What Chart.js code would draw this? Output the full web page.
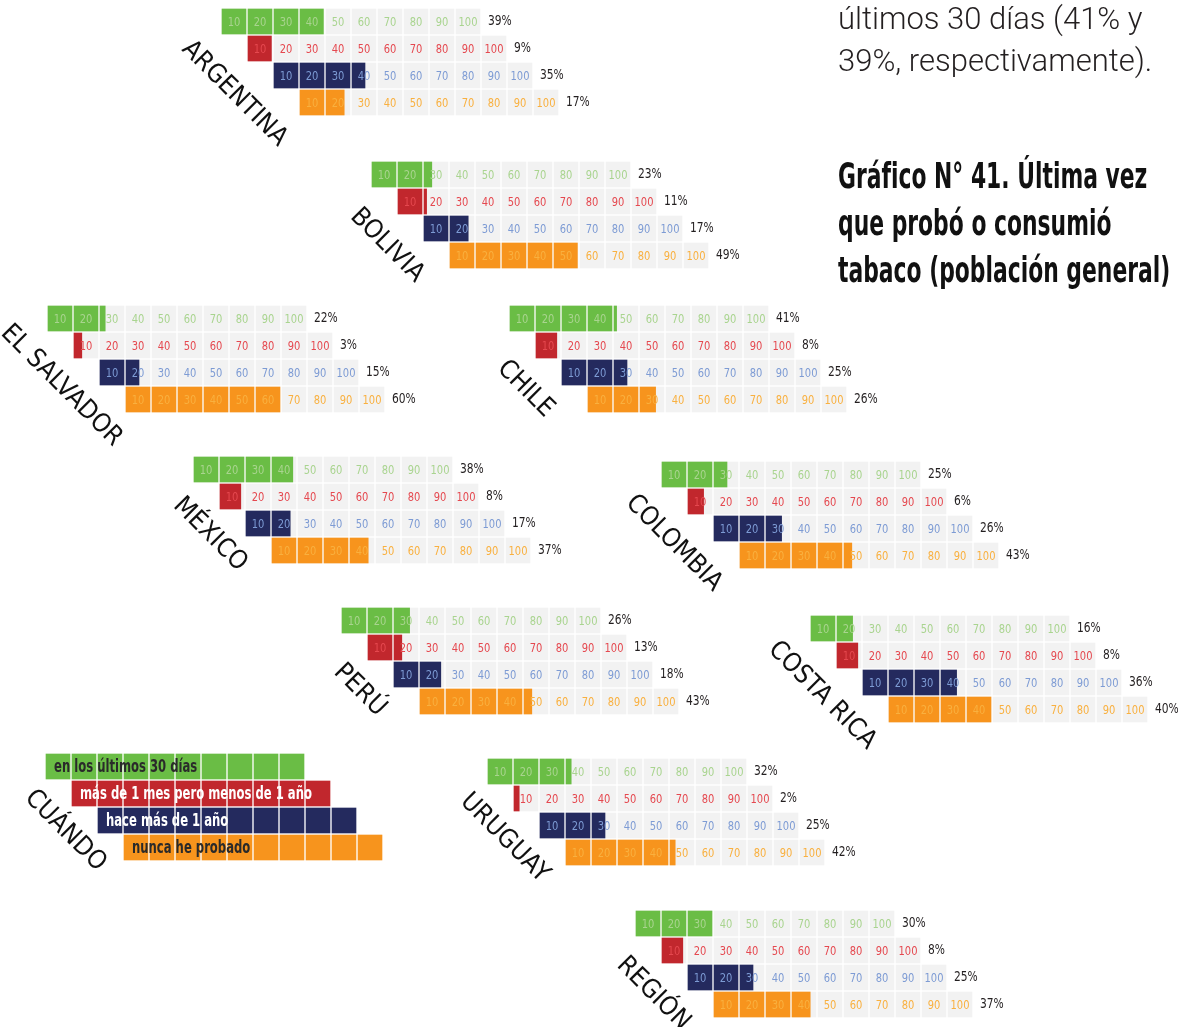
<!DOCTYPE html>
<html lang="es">
<head>
<meta charset="utf-8">
<title>Gráfico N° 41</title>
<script src="https://cdn.jsdelivr.net/npm/chart.js@4.4.1/dist/chart.umd.min.js"></script>
<style>
    html, body { margin: 0; padding: 0; background: #fff; }
    #wrap { position: relative; width: 1178px; height: 1027px; overflow: hidden; }
    #c { position: absolute; left: 0; top: 0; }
    .intro {
        position: absolute; left: 838px; top: -2px;
        font-family: Roboto, 'Open Sans', sans-serif; font-weight: 300;
        font-size: 31px; line-height: 42px; color: #231f20; white-space: nowrap;
    }
    .title {
        position: absolute; left: 838px; top: 152px;
        font-family: 'DejaVu Sans Condensed', 'DejaVu Sans', sans-serif; font-weight: bold;
        font-size: 36px; line-height: 47px; color: #111; white-space: nowrap;
        transform: scaleX(0.675); transform-origin: left top;
    }
</style>
</head>
<body>
<div id="wrap">
    <canvas id="c" width="1178" height="1027"></canvas>
    <div class="intro">últimos 30 días (41% y<br>39%, respectivamente).</div>
    <div class="title">Gráfico N° 41. Última vez<br>que probó o consumió<br>tabaco (población general)</div>
</div>
<script>
/* ── Data ── */
const countries  = ['ARGENTINA', 'BOLIVIA', 'EL SALVADOR', 'CHILE', 'MÉXICO',
                    'COLOMBIA', 'PERÚ', 'COSTA RICA', 'URUGUAY', 'REGIÓN'];
const last30     = [39, 23, 22, 41, 38, 25, 26, 16, 32, 30];
const monthYear  = [ 9, 11,  3,  8,  8,  6, 13,  8,  2,  8];
const overYear   = [35, 17, 15, 25, 17, 26, 18, 36, 25, 25];
const never      = [17, 49, 60, 26, 37, 43, 43, 40, 42, 37];
const tickLabels = ['10', '20', '30', '40', '50', '60', '70', '80', '90', '100'];
const categories = ['en los últimos 30 días', 'más de 1 mes pero menos de 1 año',
                    'hace más de 1 año', 'nunca he probado'];
const legendTitle = 'CUÁNDO';

/* ── Layout (pixels) ── */
// block origin x, y, and where the rotated name ends (offset from origin)
const blocks = [
    [222,   9, 56, 138], [372, 162, 43, 121], [ 48, 306, 65, 141], [510, 306, 35, 112],
    [194, 457, 44, 115], [662, 462, 51, 130], [342, 608, 35, 109], [811, 616, 56, 134],
    [488, 759, 52, 124], [636, 911, 45, 120],
];
const legendPos = [46, 754, 51, 118];
const PITCH_X = 26, CELL_W = 24, PITCH_Y = 27, CELL_H = 25;

const fills   = ['#6abd45', '#c1272d', '#242a5e', '#f7941d'];
const numCols = ['#a9d48f', '#e5484f', '#7d9bd4', '#f9b03f'];
const LABEL_FONT = "'DejaVu Sans Condensed', 'DejaVu Sans', sans-serif";

const seriesValues = [last30, monthYear, overYear, never];

const rowY  = (b, r) => b[1] + r * PITCH_Y + CELL_H / 2;
const cellX = (b, r, k) => b[0] + (r + k) * PITCH_X;

/* ── Datasets ── */
const grayCells = [];
blocks.forEach(b => {
    for (let r = 0; r < 4; r++)
        tickLabels.forEach((t, k) => {
            const x = cellX(b, r, k);
            grayCells.push({ x: [x, x + CELL_W], y: rowY(b, r) });
        });
});

function fillCells(ci) {
    const out = [];
    const rowCells = (b, v) => {
        tickLabels.forEach((t, k) => {
            const frac = Math.max(0, Math.min(1, (v - k * 10) / 10));
            if (frac <= 0) return;
            const x = cellX(b, ci, k);
            out.push({ x: [x, x + Math.min(CELL_W, frac * PITCH_X)], y: rowY(b, ci) });
        });
    };
    blocks.forEach((b, i) => rowCells(b, seriesValues[ci][i]));
    rowCells(legendPos, 100);
    return out;
}

// gray base goes underneath (higher order = drawn first)
const datasets = [{
    label: 'base', data: grayCells, backgroundColor: '#f2f2f2', order: 5,
}].concat(categories.map((c, i) => ({
    label: c, data: fillCells(i), backgroundColor: fills[i], order: 1,
})));

datasets.forEach(d => { d.barThickness = CELL_H; d.borderWidth = 0; d.grouped = false; });

/* ── Text plugin ── */
function squeezed(ctx, text, x, y, sx) {
    ctx.save();
    ctx.translate(x, y);
    ctx.scale(sx, 1);
    ctx.fillText(text, 0, 0);
    ctx.restore();
}

const textPlugin = {
    id: 'cellText',
    afterDatasetsDraw(chart) {
        const { ctx, scales: { x: sx, y: sy } } = chart;
        ctx.save();
        ctx.textBaseline = 'middle';

        blocks.forEach((b, i) => {
            for (let r = 0; r < 4; r++) {
                const py = sy.getPixelForValue(rowY(b, r));
                ctx.font = `13px ${LABEL_FONT}`;
                ctx.textAlign = 'center';
                ctx.fillStyle = numCols[r];
                tickLabels.forEach((t, k) => {
                    squeezed(ctx, t, sx.getPixelForValue(cellX(b, r, k) + CELL_W / 2), py + 1, 0.85);
                });
                ctx.textAlign = 'left';
                ctx.fillStyle = '#231f20';
                ctx.font = `14px ${LABEL_FONT}`;
                squeezed(ctx, seriesValues[r][i] + '%',
                    sx.getPixelForValue(cellX(b, r, 10) + 6), py, 0.85);
            }
            drawName(ctx, sx, sy, countries[i], b);
        });

        // legend
        ctx.font = `bold 17px ${LABEL_FONT}`;
        ctx.textAlign = 'left';
        categories.forEach((c, r) => {
            ctx.fillStyle = (r === 0 || r === 3) ? '#2a2a2a' : '#fff';
            squeezed(ctx, c, sx.getPixelForValue(cellX(legendPos, r, 0) + 8),
                sy.getPixelForValue(rowY(legendPos, r)) + 1, 0.76);
        });
        drawName(ctx, sx, sy, legendTitle, legendPos);
        ctx.restore();
    },
};

function drawName(ctx, sx, sy, name, b) {
    ctx.save();
    ctx.translate(sx.getPixelForValue(b[0] + b[2]), sy.getPixelForValue(b[1] + b[3]));
    ctx.rotate(Math.PI / 4);
    ctx.font = `26px ${LABEL_FONT}`;
    ctx.textAlign = 'right';
    ctx.textBaseline = 'alphabetic';
    ctx.fillStyle = '#111';
    ctx.fillText(name, 0, 0);
    ctx.restore();
}

/* ── Chart ── */
new Chart(document.getElementById('c').getContext('2d'), {
    type: 'bar',
    data: { datasets },
    options: {
        indexAxis: 'y',
        responsive: false,
        animation: false,
        events: [],
        devicePixelRatio: 1,
        layout: { padding: 0 },
        plugins: { legend: { display: false }, tooltip: { enabled: false } },
        scales: {
            x: { type: 'linear', min: 0, max: 1178, display: false, offset: false },
            y: { type: 'linear', min: 0, max: 1027, reverse: true, display: false, offset: false },
        },
    },
    plugins: [textPlugin],
});
</script>
</body>
</html>
